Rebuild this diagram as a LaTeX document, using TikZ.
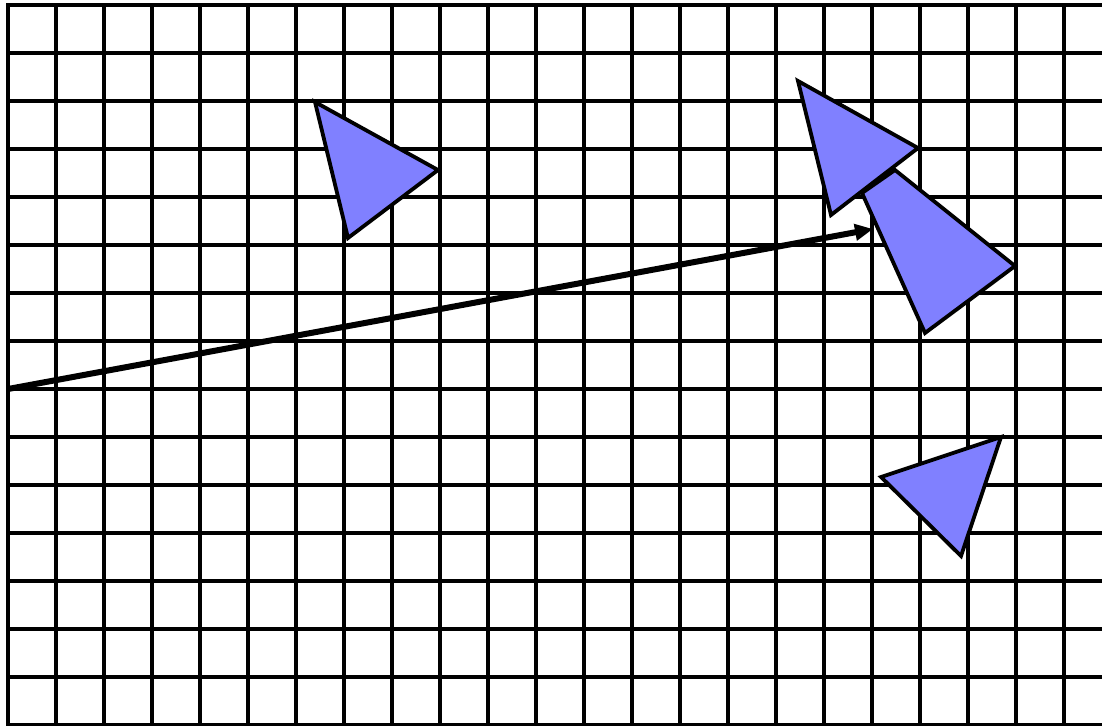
\documentclass[tikz,border=0pt]{standalone}
\usetikzlibrary{arrows.meta}
\definecolor{tri}{RGB}{128,128,255}
\begin{document}
\begin{tikzpicture}[x=1pt,y=-1pt,
  gridline/.style={line width=3.4pt,black},
  trishape/.style={fill=tri,draw=black,line width=3.8pt,line join=miter},
  arrowline/.style={line width=6pt,-{Triangle[length=18pt,width=16pt]}}]
\useasboundingbox (0,0) rectangle (1102,725);
\fill[white] (0,0) rectangle (1102,725);
\foreach \x in {8,56,...,1064} \draw[gridline] (\x,5) -- (\x,726);
\foreach \y in {5,53,...,725} \draw[gridline] (6.3,\y) -- (1103,\y);
\draw[trishape] (315,102) -- (438,170) -- (348,238) -- cycle;
\draw[trishape] (862,193) -- (895,170) -- (1015,266) -- (925,333) -- cycle;
\draw[trishape] (798,81) -- (918,148) -- (831,215) -- cycle;
\draw[trishape] (881,477) -- (1001,437) -- (961,556) -- cycle;
\coordinate (a) at (8,389);
\coordinate (b) at (873,229);
\draw[arrowline] (a) -- (b);
\end{tikzpicture}
\end{document}
